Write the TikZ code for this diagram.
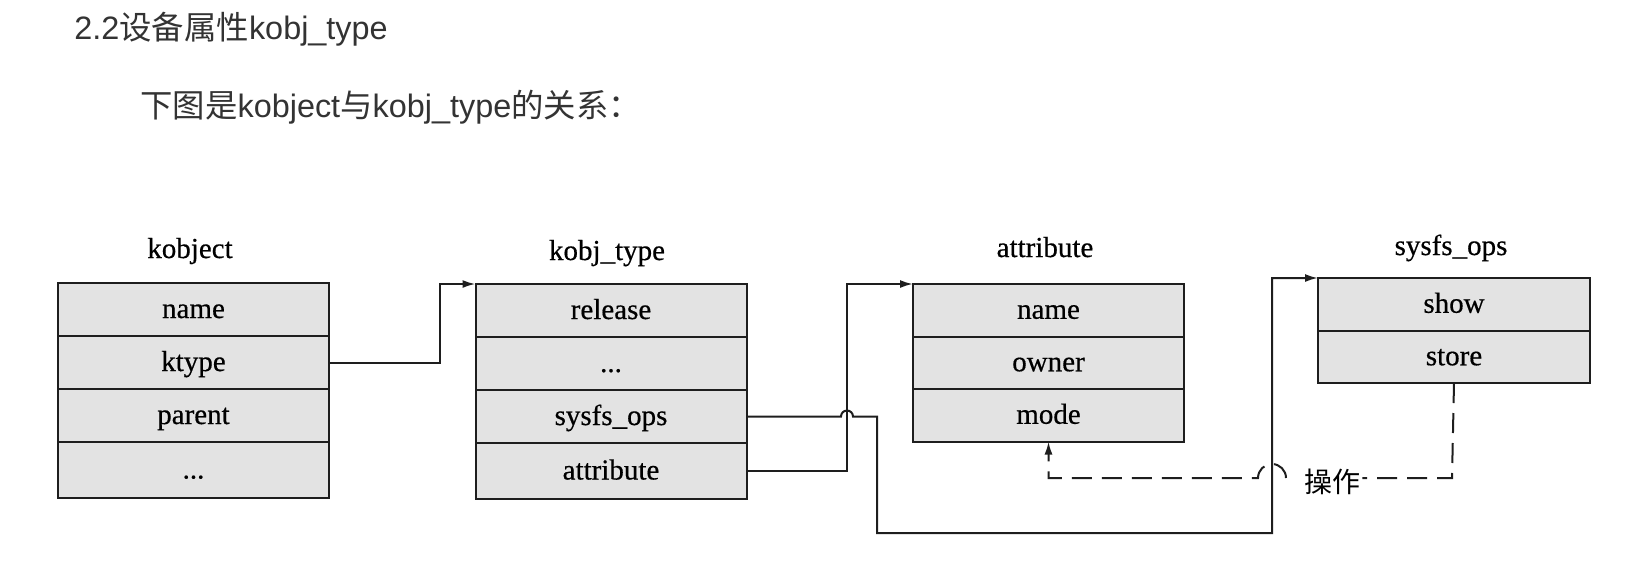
\documentclass[tikz,border=0pt]{standalone}
\usepackage{fontspec}
\setmainfont{Liberation Serif}
\newfontfamily\scanf[FakeBold=0.5]{Liberation Serif}
\newfontfamily\sansf{Liberation Sans}
\newfontfamily\cjkf{Noto Sans CJK SC}
\usetikzlibrary{arrows.meta,calc}
\definecolor{boxfill}{HTML}{E3E3E3}
\definecolor{linec}{HTML}{1E1E1E}
\definecolor{headc}{HTML}{333333}
\begin{document}
\begin{tikzpicture}[x=0.5pt,y=-0.5pt,
  row/.style={draw=linec,line width=1pt,fill=boxfill,minimum width=135.5pt,minimum height=#1,
    inner sep=0pt,outer sep=0pt,font=\scanf\fontsize{14.5}{16}\selectfont,text height=8.5pt,text depth=0pt},
  row/.default=26.5pt,
  title/.style={anchor=base,inner sep=0pt,font=\scanf\fontsize{14.5}{16}\selectfont},
  head/.style={anchor=base west,inner sep=0pt,text=headc,font=\fontsize{16.2}{19}\selectfont},
  conn/.style={draw=linec,line width=1pt},
  arr/.style={-{Latex[length=6.5pt,width=4pt]}},
  dconn/.style={conn,dash pattern=on 10pt off 5pt},
]
\useasboundingbox (0,0) rectangle (1648,570);

% heading texts
\node[head] (h1) at (74,39) {\sansf 2.2\cjkf 设备属性\sansf kobj\_type};
\node[head] (h2) at (140,117) {\cjkf 下图是\sansf kobject\cjkf 与\sansf kobj\_type\cjkf 的关系：};

% kobject
\node[title] (tko) at (190,258) {kobject};
\node[row] (ko1) at (193.5,309.5) {name};
\node[row] (ko2) at (193.5,362.5) {ktype};
\node[row] (ko3) at (193.5,415.5) {parent};
\node[row=28pt] (ko4) at (193.5,470) {...};

% kobj_type
\node[title] (tkt) at (607,260) {kobj\_type};
\node[row] (kt1) at (611,310.5) {release};
\node[row] (kt2) at (611,363.5) {...};
\node[row] (kt3) at (611,416.5) {sysfs\_ops};
\node[row=28pt] (kt4) at (611,471) {attribute};

% attribute
\node[title] (tat) at (1045,257) {attribute};
\node[row=26.25pt] (at1) at (1048.5,310.25) {name};
\node[row=26.25pt] (at2) at (1048.5,362.75) {owner};
\node[row=26.25pt] (at3) at (1048.5,415.25) {mode};

% sysfs_ops
\node[title] (tso) at (1451,255) {sysfs\_ops};
\node[row=26.25pt,minimum width=136pt] (so1) at (1454,304.25) {show};
\node[row=26.25pt,minimum width=136pt] (so2) at (1454,356.75) {store};

% label
\node[inner sep=1pt,font=\cjkf\fontsize{14}{16}\selectfont] (lbl) at (1332,482) {操作};

% junction coordinates
\coordinate (j1) at (440,0);
\coordinate (j3) at (847,0);
\coordinate (j2) at (877,533);
\coordinate (j4) at (1272,533);
\coordinate (d1) at (1452,478);

% connectors
\draw[conn,arr] (ko2.east) -| (j1 |- kt1.north west) -- (kt1.north west);
\draw[conn,arr] (kt4.east) -| (j3 |- at1.north west) -- (at1.north west);
\draw[conn,arr] (kt3.east) -- ($(j3 |- kt3.east)+(-6,0)$) arc[start angle=180,end angle=0,radius=3pt]
  -- (j2 |- kt3.east) -- (j2) -- (j4) -- (j4 |- so1.north west) -- (so1.north west);
\draw[dconn] (so2.south) -- (d1) -- (lbl.east |- d1);
\draw[dconn,arr] ($(j4 |- d1)+(14,0)$) arc[start angle=0,end angle=180,radius=7pt]
  -- (at3.south |- d1) -- (at3.south);
\end{tikzpicture}
\end{document}
